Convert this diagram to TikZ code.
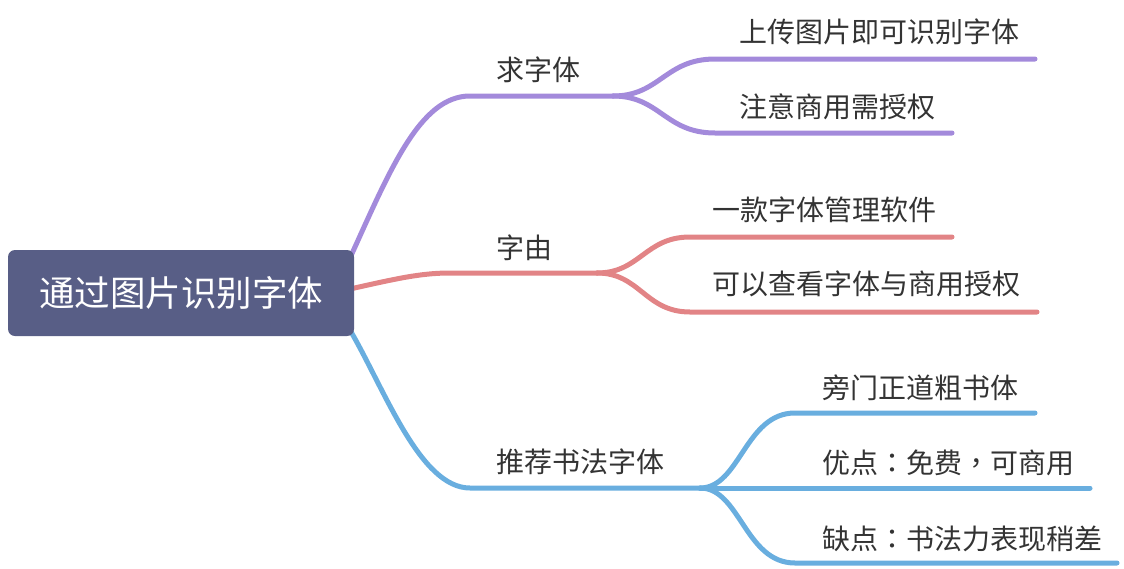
\documentclass[tikz,border=0pt]{standalone}
\usepackage{fontspec}
\setmainfont{Noto Sans CJK SC}
\newfontfamily\tcpunct{Noto Sans CJK TC}
\definecolor{rootfill}{HTML}{585E86}
\definecolor{cpurple}{HTML}{A38ADB}
\definecolor{cred}{HTML}{E28486}
\definecolor{cblue}{HTML}{69AEDF}
\definecolor{ctext}{HTML}{333333}
\tikzset{
  rootbox/.style={fill=rootfill, rounded corners=7pt, minimum width=346pt, minimum height=86pt, inner sep=0pt,
     text=white, font=\fontsize{35.5}{40}\selectfont},
  lbl/.style={anchor=west, inner sep=0pt, text=ctext, font=\fontsize{28}{32}\selectfont},
  branch/.style={line width=5pt, line cap=round},
}
\begin{document}
\begin{tikzpicture}[x=1pt,y=-1pt]
\useasboundingbox (0,0) rectangle (1124,568);

% coordinates
\coordinate (pS) at (350,258);
\coordinate (pH) at (470,96);
\coordinate (pX) at (613,96);
\coordinate (pA) at (715,59);
\coordinate (pAe) at (1035,59);
\coordinate (pB) at (715,133);
\coordinate (pBe) at (952,133);

\coordinate (rS) at (350,289);
\coordinate (rH) at (450,273);
\coordinate (rX) at (597,273);
\coordinate (rA) at (690,237);
\coordinate (rAe) at (952,237);
\coordinate (rB) at (690,312);
\coordinate (rBe) at (1037,312);

\coordinate (bS) at (350,330);
\coordinate (bH) at (470,488);
\coordinate (bX) at (700,488);
\coordinate (bA) at (795,413);
\coordinate (bAe) at (1035,413);
\coordinate (bBe) at (1090,488);
\coordinate (bC) at (795,563);
\coordinate (bCe) at (1117,563);

% purple branch
\draw[branch, cpurple] (pS) .. controls (390,170) and (420,96) .. (pH) -- (pX);
\draw[branch, cpurple] (pX) .. controls (660,96) and (665,59) .. (pA) -- (pAe);
\draw[branch, cpurple] (pX) .. controls (660,96) and (665,133) .. (pB) -- (pBe);

% red branch
\draw[branch, cred] (rS) .. controls (395,279) and (420,273) .. (rH) -- (rX);
\draw[branch, cred] (rX) .. controls (640,273) and (645,237) .. (rA) -- (rAe);
\draw[branch, cred] (rX) .. controls (640,273) and (645,312) .. (rB) -- (rBe);

% blue branch
\draw[branch, cblue] (bS) .. controls (385,390) and (420,488) .. (bH) -- (bX);
\draw[branch, cblue] (bX) .. controls (740,488) and (745,413) .. (bA) -- (bAe);
\draw[branch, cblue] (bX) -- (bBe);
\draw[branch, cblue] (bX) .. controls (740,488) and (745,563) .. (bC) -- (bCe);

% root
\node[rootbox] (root) at (181,293) {通过图片识别字体};

% labels
\node[lbl] (t1) at (496,70) {求字体};
\node[lbl] (t11) at (739,32) {上传图片即可识别字体};
\node[lbl] (t12) at (739,107) {注意商用需授权};

\node[lbl] (t2) at (496,248) {字由};
\node[lbl] (t21) at (712,210) {一款字体管理软件};
\node[lbl] (t22) at (712,284) {可以查看字体与商用授权};

\node[lbl] (t3) at (496,462) {推荐书法字体};
\node[lbl] (t31) at (822,388) {旁门正道粗书体};
\node[lbl] (t32) at (822,463) {优点{\tcpunct ：}免费{\tcpunct ，}可商用};
\node[lbl] (t33) at (822,539) {缺点{\tcpunct ：}书法力表现稍差};
\end{tikzpicture}
\end{document}
